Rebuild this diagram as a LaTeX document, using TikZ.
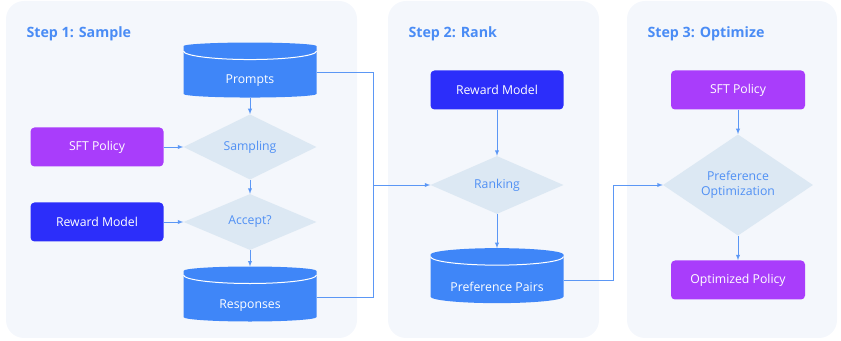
\documentclass[tikz,border=0pt]{standalone}
\usepackage{fontspec}
\setmainfont{Open Sans}
\usepackage{tikz}
\usetikzlibrary{arrows,shapes}
\definecolor{panelbg}{HTML}{F4F7FC}
\definecolor{stepblue}{HTML}{4A8CF5}
\definecolor{cylblue}{HTML}{3F86F8}
\definecolor{sftpurple}{HTML}{A93DFB}
\definecolor{rmblue}{HTML}{2C2EFA}
\definecolor{decfill}{HTML}{DCE8F3}
\definecolor{dectext}{HTML}{5090F4}
\definecolor{flowline}{HTML}{5B97F5}
\newcommand{\caprim}[1]{\draw [white,line width=1bp] ([yshift=-8.5bp]#1.north) ++(-66.5bp,0) arc[start angle=180,end angle=360,x radius=66.5bp,y radius=8.5bp];}

\begin{document}
\begin{tikzpicture}[>=latex]
      \tikzstyle{every node}=[font=\fontsize{12.3}{15}\selectfont]
      \tikzstyle{panel}=[fill=panelbg,rounded corners=18bp]
      \tikzstyle{steptitle}=[anchor=base west,text=stepblue,font=\fontsize{14.3}{16}\selectfont\bfseries]
      \tikzstyle{sftbox}=[rectangle,rounded corners=4bp,fill=sftpurple,text=white,minimum width=133bp,minimum height=39bp]
      \tikzstyle{rmbox}=[sftbox,fill=rmblue]
      \tikzstyle{dbcyl}=[cylinder,shape border rotate=90,aspect=0.13,fill=cylblue,text=white,minimum width=133bp,minimum height=55bp,outer sep=0pt,text height=23bp,text depth=0bp]
      \tikzstyle{decide}=[diamond,fill=decfill,text=dectext,inner sep=0pt,minimum width=133bp,minimum height=56bp,align=center]
      \tikzstyle{flow}=[draw=flowline,line width=.9bp]
      \useasboundingbox (0bp,0bp) rectangle (841bp,341bp);
      %%
  \fill [panel] (6bp,3bp) rectangle (357bp,340bp);
  \fill [panel] (388bp,3bp) rectangle (599bp,340bp);
  \fill [panel] (627bp,3bp) rectangle (837bp,340bp);
  \node (t1) at (23bp,303bp) [steptitle] {Step 1: Sample};
  \node (t2) at (405bp,303bp) [steptitle] {Step 2: Rank};
  \node (t3) at (644bp,303bp) [steptitle] {Step 3: Optimize};
  %% step 1
  \node (prompts) at (250bp,268.5bp) [dbcyl] {Prompts};
  \node (sampling) at (250bp,194bp) [decide] {Sampling};
  \node (sft1) at (97bp,194bp) [sftbox] {SFT Policy};
  \node (accept) at (250bp,119bp) [decide] {Accept?};
  \node (rm1) at (97bp,119bp) [rmbox] {Reward Model};
  \node (responses) at (250bp,44bp) [dbcyl] {Responses};
  %% step 2
  \node (rm2) at (497bp,251bp) [rmbox] {Reward Model};
  \node (ranking) at (497bp,156bp) [decide] {Ranking};
  \node (pairs) at (497bp,61bp) [dbcyl] {Preference Pairs};
  %% step 3
  \node (sft2) at (738bp,251bp) [sftbox,minimum width=134bp] {SFT Policy};
  \node (popt) at (738bp,156bp) [decide,minimum width=150bp,minimum height=61bp] {Preference\\Optimization};
  \node (optp) at (738bp,61bp) [sftbox,minimum width=134bp] {Optimized Policy};
  \caprim{prompts}
  \caprim{responses}
  \caprim{pairs}
  \coordinate (j1) at (373bp,156bp);
  \draw [flow,->] (prompts) -- (sampling);
  \draw [flow,->] (sft1) -- (sampling);
  \draw [flow,->] (sampling) -- (accept);
  \draw [flow,->] (rm1) -- (accept);
  \draw [flow,->] (accept) -- (responses);
  \draw [flow] (prompts.east) -| (j1);
  \draw [flow] (responses.east) -| (j1);
  \draw [flow,->] (j1) -- (ranking);
  \draw [flow,->] (rm2) -- (ranking);
  \draw [flow,->] (ranking) -- (pairs);
  \draw [flow,->] (pairs.east) -- ++(50bp,0) |- (popt.west);
  \draw [flow,->] (sft2) -- (popt);
  \draw [flow,->] (popt) -- (optp);
%
\end{tikzpicture}
\end{document}
